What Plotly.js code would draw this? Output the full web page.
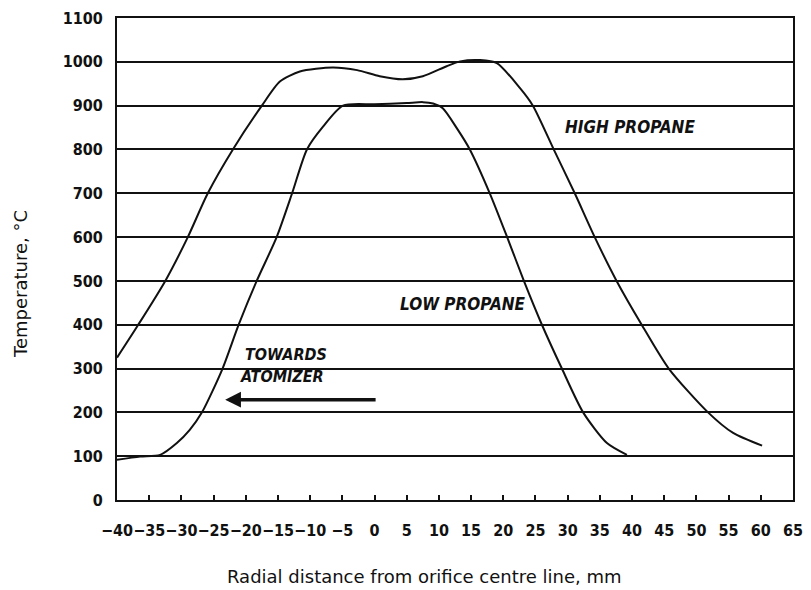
<!DOCTYPE html>
<html>
<head>
<meta charset="utf-8">
<script src="https://cdn.plot.ly/plotly-3.0.1.min.js"></script>
<style>html,body{margin:0;padding:0;background:#fff;}#chart{width:811px;height:590px;}</style>
</head>
<body>
<div id="chart"></div>
<script>
// Radial distance (mm) and temperature (°C)
const highX = [-40, -36.7, -32.5, -29.0, -25.9, -22.0, -17.5, -14.7, -11.6, -6.5, -2.7, 0.8, 4.4, 7.5, 11.2, 13.3, 16.4, 19.0, 22.6, 24.6, 28.0, 31.1, 34.2, 37.6, 41.5, 45.7, 51.8, 55.7, 60.2];
const highY = [325, 400, 500, 600, 700, 800, 900, 955, 978, 987, 981, 967, 960, 967, 990, 1001, 1004, 997, 940, 900, 795, 700, 600, 500, 400, 300, 200, 153, 124];

const lowX = [-40, -36.4, -33.3, -30.7, -28.7, -26.8, -23.6, -21.1, -18.3, -15.2, -12.8, -10.5, -8.0, -4.9, 0, 5, 7.5, 9.1, 10.6, 12.8, 14.8, 17.9, 20.6, 23.2, 26.0, 29.1, 32.4, 36.1, 39.2];
const lowY = [92, 99, 103, 130, 160, 200, 300, 400, 500, 600, 700, 800, 852, 900, 903, 906, 908, 905, 894, 848, 800, 700, 600, 500, 400, 300, 200, 130, 103];

const xTickVals = [-40, -35, -30, -25, -20, -15, -10, -5, 0, 5, 10, 15, 20, 25, 30, 35, 40, 45, 50, 55, 60, 65];
const xTickText = ["\u221240", "\u221235", "\u221230", "\u221225", "\u221220", "\u221215", "\u221210", "\u22125", "0", "5", "10", "15", "20", "25", "30", "35", "40", "45", "50", "55", "60", "65"];
const yTickVals = [0, 100, 200, 300, 400, 500, 600, 700, 800, 900, 1000, 1100];
const yTickText = ["0", "100", "200", "300", "400", "500", "600", "700", "800", "900", "1000", "1100"];

const seriesNames = ["HIGH PROPANE", "LOW PROPANE"];
const arrowLabel = ["TOWARDS", "ATOMIZER"];
const xTitle = "Radial distance from orifice centre line, mm";
const yTitle = "Temperature, \u00B0C";

const ink = "#111111";
const tickFont = {family: "DejaVu Sans Condensed", size: 16, color: ink, weight: "bold"};
const labelFont = {family: "DejaVu Sans Condensed", size: 17, color: ink, weight: "bold", style: "italic"};

const traces = [
  {x: highX, y: highY, name: seriesNames[0], type: "scatter", mode: "lines",
   line: {color: ink, width: 2, shape: "spline", smoothing: 0.7}, hoverinfo: "x+y"},
  {x: lowX, y: lowY, name: seriesNames[1], type: "scatter", mode: "lines",
   line: {color: ink, width: 2, shape: "spline", smoothing: 0.7}, hoverinfo: "x+y"}
];

const layout = {
  width: 811, height: 590,
  margin: {l: 117, r: 18, t: 18, b: 90},
  paper_bgcolor: "#ffffff", plot_bgcolor: "#ffffff",
  showlegend: false,
  xaxis: {
    range: [-40, 65], tickmode: "array", tickvals: xTickVals, ticktext: xTickText,
    tickangle: 0, ticks: "inside", ticklen: 5, tickwidth: 2, tickcolor: ink,
    showline: true, linecolor: ink, linewidth: 2, mirror: true,
    showgrid: false, zeroline: false, tickfont: tickFont, ticklabelstandoff: 15,
    fixedrange: true
  },
  yaxis: {
    range: [0, 1100], tickmode: "array", tickvals: yTickVals, ticktext: yTickText,
    ticks: "", showline: true, linecolor: ink, linewidth: 2, mirror: true,
    showgrid: true, gridcolor: ink, gridwidth: 2, zeroline: false,
    tickfont: tickFont, ticklabelstandoff: 9, fixedrange: true
  },
  annotations: [
    {x: 39.7, y: 851, xref: "x", yref: "y", text: seriesNames[0], showarrow: false, font: labelFont},
    {x: 13.7, y: 448, xref: "x", yref: "y", text: seriesNames[1], showarrow: false, font: labelFont},
    {x: -13.7, y: 332, xref: "x", yref: "y", text: arrowLabel[0], showarrow: false, font: Object.assign({}, labelFont, {size: 16})},
    {x: -14.3, y: 281, xref: "x", yref: "y", text: arrowLabel[1], showarrow: false, font: Object.assign({}, labelFont, {size: 16})},
    {x: -23.2, y: 229, xref: "x", yref: "y", ax: 0.4, ay: 229, axref: "x", ayref: "y",
     text: "", showarrow: true, arrowhead: 2, arrowsize: 0.9, arrowwidth: 3.5, arrowcolor: ink},
    {x: 0.4556, y: -0.158, xref: "paper", yref: "paper", text: xTitle, showarrow: false,
     xanchor: "center", yanchor: "middle", font: {family: "DejaVu Sans", size: 18, color: ink}},
    {x: -0.1435, y: 0.448, xref: "paper", yref: "paper", text: yTitle, showarrow: false, textangle: -90,
     xanchor: "center", yanchor: "middle", font: {family: "DejaVu Sans", size: 18, color: ink}}
  ]
};

Plotly.newPlot("chart", traces, layout, {displayModeBar: false, staticPlot: true});
</script>
</body>
</html>
